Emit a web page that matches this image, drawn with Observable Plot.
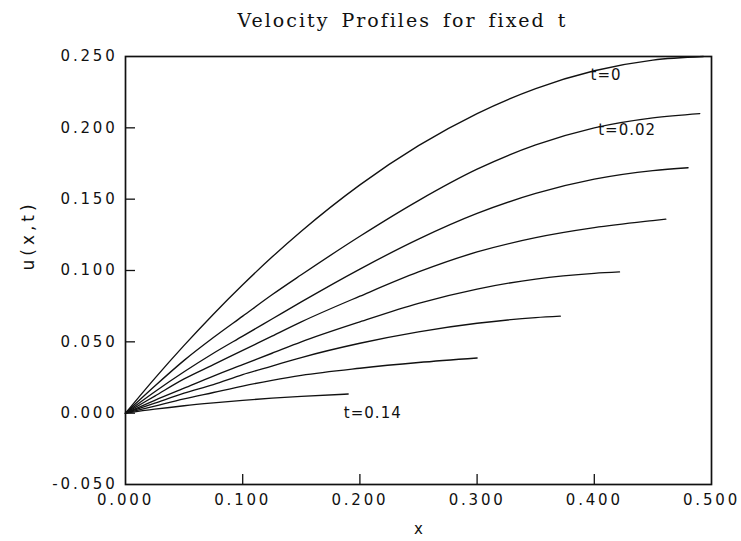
<!DOCTYPE html>
<html>
<head>
<meta charset="utf-8">
<script src="https://cdn.jsdelivr.net/npm/d3@7"></script>
<script src="https://cdn.jsdelivr.net/npm/@observablehq/plot@0.6"></script>
<style>
  html, body { margin: 0; padding: 0; background: #fff; }
  #title { height: 40px; width: 741px; text-align: center; font-family: "DejaVu Serif", serif; font-size: 19px; letter-spacing: 2px; line-height: 40px; color: #111; padding-left: 64px; box-sizing: border-box; word-spacing: 4px; }
  #chart svg g[aria-label="x-axis tick label"] text,
  #chart svg g[aria-label="y-axis tick label"] text { font-size: 15px !important; letter-spacing: 2.8px; }
</style>
</head>
<body>
<div id="title">Velocity Profiles for fixed t</div>
<div id="chart"></div>
<script>
// time values for each profile
const times = [0, 0.02, 0.04, 0.06, 0.08, 0.10, 0.12, 0.14];

// x positions and u values, one pair of arrays per profile
const x_t000 = [0, 0.025, 0.05, 0.075, 0.1, 0.125, 0.15, 0.2, 0.25, 0.3, 0.35, 0.4, 0.45, 0.493];
const u_t000 = [0, 0.0244, 0.0475, 0.0694, 0.090, 0.1094, 0.1275, 0.160, 0.1875, 0.210, 0.2275, 0.240, 0.2475, 0.250];

const x_t002 = [0, 0.025, 0.05, 0.075, 0.1, 0.125, 0.15, 0.2, 0.25, 0.3, 0.35, 0.4, 0.45, 0.490];
const u_t002 = [0, 0.019, 0.037, 0.053, 0.068, 0.083, 0.097, 0.124, 0.149, 0.171, 0.188, 0.200, 0.207, 0.210];

const x_t004 = [0, 0.025, 0.05, 0.075, 0.1, 0.125, 0.15, 0.2, 0.25, 0.3, 0.35, 0.4, 0.45, 0.480];
const u_t004 = [0, 0.015, 0.029, 0.042, 0.054, 0.066, 0.078, 0.101, 0.122, 0.140, 0.154, 0.164, 0.170, 0.172];

const x_t006 = [0, 0.025, 0.05, 0.075, 0.1, 0.125, 0.15, 0.2, 0.25, 0.3, 0.35, 0.4, 0.45, 0.461];
const u_t006 = [0, 0.012, 0.024, 0.034, 0.044, 0.054, 0.064, 0.082, 0.099, 0.113, 0.123, 0.130, 0.135, 0.136];

const x_t008 = [0, 0.025, 0.05, 0.075, 0.1, 0.125, 0.15, 0.2, 0.25, 0.3, 0.35, 0.4, 0.4215];
const u_t008 = [0, 0.009, 0.0175, 0.026, 0.034, 0.042, 0.050, 0.064, 0.077, 0.087, 0.094, 0.098, 0.099];

const x_t010 = [0, 0.025, 0.05, 0.075, 0.1, 0.125, 0.15, 0.2, 0.25, 0.3, 0.35, 0.371];
const u_t010 = [0, 0.007, 0.014, 0.020, 0.027, 0.033, 0.039, 0.049, 0.057, 0.063, 0.067, 0.068];

const x_t012 = [0, 0.025, 0.05, 0.075, 0.1, 0.125, 0.15, 0.2, 0.25, 0.3];
const u_t012 = [0, 0.005, 0.010, 0.0145, 0.019, 0.023, 0.0265, 0.0315, 0.0355, 0.0387];

const x_t014 = [0, 0.025, 0.05, 0.075, 0.1, 0.125, 0.15, 0.19];
const u_t014 = [0, 0.0028, 0.0052, 0.0072, 0.009, 0.0105, 0.0118, 0.0134];

// axis ticks
const xTicks = [0, 0.1, 0.2, 0.3, 0.4, 0.5];
const yTicks = [-0.05, 0, 0.05, 0.10, 0.15, 0.20, 0.25];
const xInnerTicks = [0.1, 0.2, 0.3, 0.4];
const yInnerTicks = [0, 0.05, 0.10, 0.15, 0.20];

// curve annotations
const labelText = ["t=0", "t=0.02", "t=0.14"];
const labelX = [0.410, 0.428, 0.211];
const labelU = [0.237, 0.198, 0.0];
const yLabel = "u(x,t)";
const xLabel = "x";

const xs = [x_t000, x_t002, x_t004, x_t006, x_t008, x_t010, x_t012, x_t014];
const us = [u_t000, u_t002, u_t004, u_t006, u_t008, u_t010, u_t012, u_t014];
const rows = [];
times.forEach((t, i) => xs[i].forEach((x, j) => rows.push({t, x, u: us[i][j]})));
const labels = labelText.map((s, i) => ({s, x: labelX[i], u: labelU[i]}));

const fmt = d => d3.format(".3f")(d).replace("\u2212", "-");
const tickLenX = 10 / 1172; // ~10px expressed in x units
const tickLenY = 10 / 1422;

const chart = Plot.plot({
  width: 741,
  height: 501,
  marginLeft: 125,
  marginRight: 30,
  marginTop: 16,
  marginBottom: 57,
  style: {fontFamily: "DejaVu Sans, sans-serif", fontSize: "15px", color: "#111", background: "#fff"},
  x: {domain: [0, 0.5]},
  y: {domain: [-0.05, 0.25]},
  marks: [
    Plot.axisX({ticks: xTicks, tickFormat: fmt, tickSize: 0, tickPadding: 10, label: null}),
    Plot.axisY({ticks: yTicks, tickFormat: fmt, tickSize: 0, tickPadding: 8, label: null}),
    Plot.ruleX(xInnerTicks, {y1: -0.05, y2: -0.05 + tickLenY, stroke: "#111", strokeWidth: 1.3}),
    Plot.ruleY(yInnerTicks, {x1: 0, x2: tickLenX, stroke: "#111", strokeWidth: 1.3}),
    Plot.frame({stroke: "#111", strokeWidth: 1.7}),
    Plot.line(rows, {x: "x", y: "u", z: "t", curve: "monotone-x", stroke: "#111", strokeWidth: 1.35}),
    Plot.text(labels, {x: "x", y: "u", text: "s", fontSize: 15, fill: "#111"}),
    Plot.text([xLabel], {frameAnchor: "bottom", dy: 49, text: d => d, fontSize: 15, fill: "#111"}),
    Plot.text([yLabel], {frameAnchor: "left", dx: -97, dy: 0, rotate: -90, text: d => d, fontSize: 17, fill: "#111"})
  ]
});
document.getElementById("chart").appendChild(chart);
// letter spacing like the plotter lettering
d3.select(chart).selectAll("text").each(function() {
  const s = this.textContent;
  if (s === yLabel) this.style.letterSpacing = "4px";
  else if (labelText.includes(s)) this.style.letterSpacing = "1px";
});
</script>
</body>
</html>
